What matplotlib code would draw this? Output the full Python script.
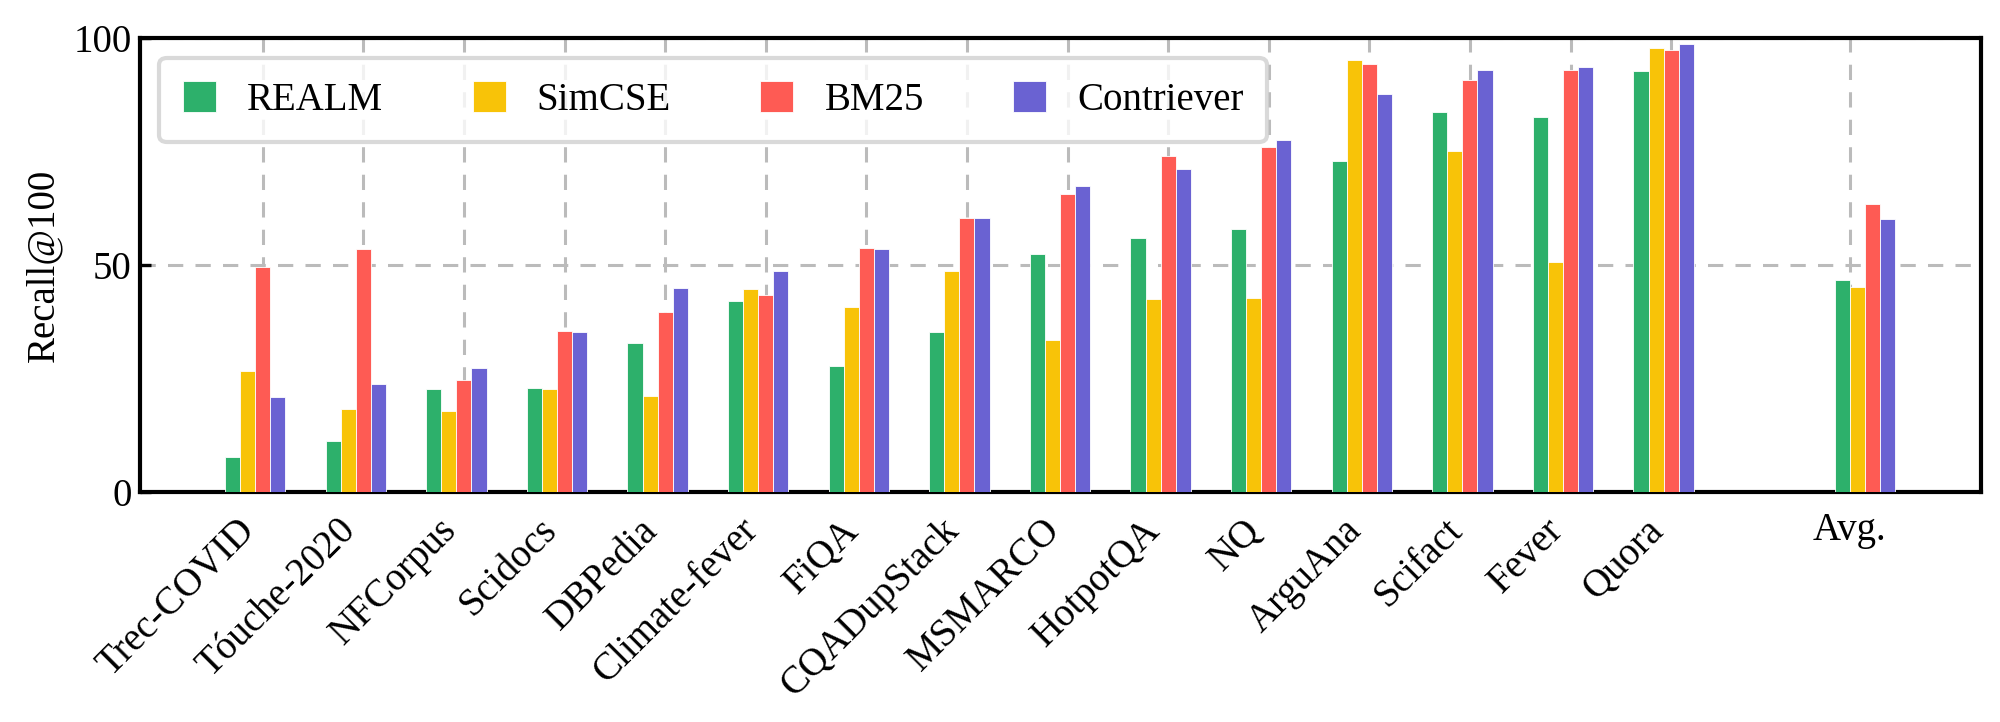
import matplotlib
matplotlib.use("Agg")
import matplotlib.pyplot as plt
import numpy as np

# Data (Recall@100)
datasets = ['Trec-COVID', 'Tóuche-2020', 'NFCorpus', 'Scidocs', 'DBPedia',
            'Climate-fever', 'FiQA', 'CQADupStack', 'MSMARCO', 'HotpotQA',
            'NQ', 'ArguAna', 'Scifact', 'Fever', 'Quora']
avg_label = 'Avg.'

realm = [7.9, 11.3, 22.8, 23.0, 32.9, 42.2, 27.8, 35.4, 52.5, 56.0,
         58.0, 73.0, 83.8, 82.6, 92.7]
simcse = [26.7, 18.4, 18.0, 22.8, 21.3, 44.7, 40.9, 48.8, 33.5, 42.6,
          42.8, 95.2, 75.2, 50.7, 97.9]
bm25 = [49.7, 53.7, 24.8, 35.5, 39.7, 43.5, 53.8, 60.5, 65.7, 74.0,
        76.0, 94.3, 90.8, 93.1, 97.4]
contriever = [21.0, 23.8, 27.4, 35.3, 45.1, 48.8, 53.6, 60.4, 67.4, 71.2,
              77.5, 87.7, 93.0, 93.7, 98.8]
averages = [46.8, 45.3, 63.5, 60.3]  # REALM, SimCSE, BM25, Contriever

models = ['REALM', 'SimCSE', 'BM25', 'Contriever']
colors = ['#2db06b', '#f8c308', '#fe5b54', '#6a62d2']

plt.rcParams['font.family'] = ['Liberation Serif', 'DejaVu Serif']
plt.rcParams['font.size'] = 14

fig = plt.figure(figsize=(10, 3.61), dpi=200)
ax = fig.add_axes([0.07, 0.318, 0.9205, 0.629])

series = [realm, simcse, bm25, contriever]
x = np.arange(len(datasets))
x_avg = len(datasets) + 1
width = 0.15

for i, (name, vals) in enumerate(zip(models, series)):
    ax.bar(x + (i - 2) * width, vals, width, color=colors[i], label=name,
           edgecolor='white', linewidth=0.3, zorder=3)
    ax.bar(x_avg + (i - 2) * width, averages[i], width, color=colors[i],
           edgecolor='white', linewidth=0.3, zorder=3)

ax.set_xlim(-1.22, 17.08)
ax.set_ylim(0, 100)
ax.set_yticks([0, 50, 100])
ax.set_ylabel('Recall@100', labelpad=4)

# dataset ticks rotated, the average tick upright
ax.set_xticks(list(x) + [x_avg - 1.5 * width])
ax.set_xticklabels(datasets + [avg_label])
for lbl in ax.get_xticklabels()[:-1]:
    lbl.set_rotation(45)
    lbl.set_ha('right')

ax.tick_params(axis='both', direction='in', length=4, width=1.2, pad=3)
ax.tick_params(axis='x', length=0, pad=7)
for s in ax.spines.values():
    s.set_linewidth(1.5)

ax.grid(True, linestyle=(0, (5, 4)), color='#bbbbbb', linewidth=1.1, zorder=0)
ax.set_axisbelow(True)

leg = ax.legend(loc='upper left', ncol=4, handlelength=0.85, handleheight=0.85,
                columnspacing=2.3, handletextpad=0.8, fancybox=True,
                borderpad=0.6, fontsize=14)
leg.set_zorder(5)
leg.get_frame().set_edgecolor('#d0d0d0')
leg.get_frame().set_linewidth(1.5)

plt.savefig('out.png', dpi=200)
